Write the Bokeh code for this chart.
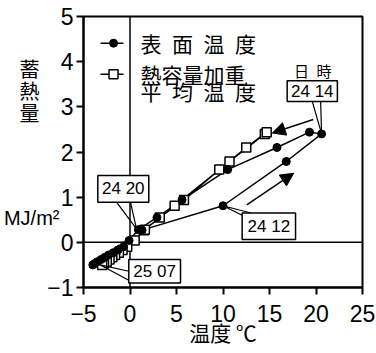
from bokeh.plotting import figure
from bokeh.models import Range1d, FixedTicker, Arrow, NormalHead, Span, LinearAxis
from bokeh.core.properties import value
from bokeh.embed import file_html
from bokeh.resources import INLINE

# ---- data ----
hours = ["24 11", "24 12", "24 13", "24 14", "24 15", "24 16", "24 17", "24 18",
         "24 19", "24 20", "24 21", "24 22", "24 23", "24 24", "25 01", "25 02",
         "25 03", "25 04", "25 05", "25 06"]
surface_temp = [1.3, 10.0, 16.8, 20.6, 19.3, 15.8, 10.5, 5.6, 2.9, 0.9,
                -0.1, -0.7, -1.3, -1.8, -2.3, -2.7, -3.1, -3.5, -3.8, -4.0]
weighted_temp = [1.5, 4.8, 10.7, 14.5, 14.7, 12.5, 9.6, 5.8, 3.2, 1.6,
                 0.5, -0.3, -0.8, -1.2, -1.6, -1.9, -2.2, -2.5, -2.8, -3.0]
heat_storage = [0.27, 0.81, 1.79, 2.40, 2.44, 2.10, 1.61, 0.94, 0.55, 0.28,
                0.04, -0.10, -0.17, -0.23, -0.28, -0.33, -0.38, -0.43, -0.47, -0.50]

x_ticks = [-5, 0, 5, 10, 15, 20, 25]
y_ticks = [-1, 0, 1, 2, 3, 4, 5]
tick_overrides = {-5: "\u22125", -1: "\u22121"}

series_names = ["表\u2002面\u2002温\u2002度", "熱容量加重", "平\u2002均\u2002温\u2002度"]
x_title = "温度 ℃"
# y title pieces, placed beside the axis at these heights
y_title_pos = [3.32, 0.54]
y_title_text = ["蓄\u3000\n熱\u3000\n量\u3000", "MJ/m²"]
time_head = "日\u2002時"

# callout boxes: text, box (x0, x1, y0, y1), leader wedge (xa, ya, xb, yb, xp, yp)
callout_text = ["24 20", "24 14", "24 12", "25 07"]
callout_box = [(-3.46, 2.02, 0.89, 1.48), (16.9, 22.3, 3.12, 3.58),
               (12.06, 17.8, 0.06, 0.65), (-0.13, 5.43, -0.90, -0.38)]
callout_leader = [(-1.45, 0.89, 0.05, 0.89, 0.7, 0.30),
                  (19.6, 3.12, 20.5, 3.12, 20.6, 2.40),
                  (12.06, 0.60, 13.0, 0.65, 10.0, 0.81),
                  (-0.13, -0.64, -0.13, -0.84, -3.2, -0.50)]

# arrows: (x_start, y_start, x_end, y_end)
arrows = [(19.7, 2.72, 15.3, 2.42), (12.55, 0.83, 17.6, 1.53)]

CJK = "Noto Sans CJK JP"
NUM = "Liberation Sans"
MIX = "Liberation Sans, Noto Sans CJK JP"

p = figure(width=376, height=353, x_range=Range1d(-5, 25), y_range=Range1d(-1, 5),
           output_backend="svg", toolbar_location=None,
           min_border_left=83, min_border_right=14, min_border_top=16, min_border_bottom=66)
p.grid.visible = False
p.outline_line_color = "black"
p.outline_line_width = 2
p.outline_line_alpha = 1.0

for ax, ticks in ((p.xaxis[0], x_ticks), (p.yaxis[0], y_ticks)):
    ax.ticker = FixedTicker(ticks=ticks)
    ax.major_label_overrides = tick_overrides
    ax.axis_line_width = 2
    ax.axis_line_color = "black"
    ax.major_tick_line_width = 2
    ax.major_tick_line_color = "black"
    ax.major_tick_out = 7
    ax.major_tick_in = 0
    ax.minor_tick_out = 0
    ax.minor_tick_in = 0
    ax.major_label_text_font = NUM
    ax.major_label_text_font_size = "23px"
    ax.major_label_text_color = "black"
p.xaxis[0].major_label_standoff = 10
p.yaxis[0].major_label_standoff = 3

xa = p.xaxis[0]
xa.axis_label = x_title
xa.axis_label_text_font = CJK
xa.axis_label_text_font_size = "21px"
xa.axis_label_text_font_style = "normal"
xa.axis_label_text_color = "black"
xa.axis_label_standoff = -8

# y title as a bare extra axis beside the value axis
ty = LinearAxis(ticker=FixedTicker(ticks=y_title_pos),
                major_label_overrides=dict(zip(y_title_pos, y_title_text)))
ty.axis_line_color = None
ty.major_tick_line_color = None
ty.minor_tick_line_color = None
ty.major_tick_out = 0
ty.major_tick_in = 0
ty.minor_tick_out = 0
ty.minor_tick_in = 0
ty.major_label_standoff = -15
ty.major_label_text_font = MIX
ty.major_label_text_font_size = "20px"
ty.major_label_text_color = "black"
ty.major_label_text_line_height = 1.0
p.add_layout(ty, "left")

# zero lines (below everything)
p.add_layout(Span(location=0, dimension="width", line_color="black", line_width=1.5, level="underlay"))
p.add_layout(Span(location=0, dimension="height", line_color="black", line_width=1.5, level="underlay"))

# series
p.line(surface_temp, heat_storage, line_color="black", line_width=1.5)
p.line(weighted_temp, heat_storage, line_color="black", line_width=1.5)
p.scatter(weighted_temp, heat_storage, marker="square", size=9, fill_color="white",
          line_color="black", line_width=1.5)
p.scatter(surface_temp, heat_storage, marker="circle", size=8, fill_color="black",
          line_color="black")

# legend (manual)
p.line([-3.17, -0.70], [4.41, 4.41], line_color="black", line_width=1.5)
p.scatter([-1.77], [4.41], marker="circle", size=8, fill_color="black", line_color="black")
p.line([-3.17, -0.70], [3.72, 3.72], line_color="black", line_width=1.5)
p.scatter([-1.77], [3.72], marker="square", size=9, fill_color="white", line_color="black", line_width=1.5)
p.text([1.13, 1.13, 1.13], [4.41, 3.72, 3.34], text=series_names, text_font=value(CJK),
       text_font_size="21px", text_align="left", text_baseline="middle", text_color="black")

# callout leaders
xs, ys = [], []
for (xa_, ya_, xb, yb, xp, yp) in callout_leader:
    xs.append([xa_, xp, xb])
    ys.append([ya_, yp, yb])
p.multi_line(xs, ys, line_color="black", line_width=1.2)

# arrows
for (xs0, ys0, xe, ye) in arrows:
    p.add_layout(Arrow(end=NormalHead(size=13, fill_color="black", line_color="black"),
                       x_start=xs0, y_start=ys0, x_end=xe, y_end=ye,
                       line_color="black", line_width=1.5))

# callout boxes
p.quad(left=[b[0] for b in callout_box], right=[b[1] for b in callout_box],
       bottom=[b[2] for b in callout_box], top=[b[3] for b in callout_box],
       fill_color="white", line_color="black", line_width=1.5)
p.text([(b[0] + b[1]) / 2 for b in callout_box], [(b[2] + b[3]) / 2 for b in callout_box],
       text=callout_text, text_font=value(NUM), text_font_size="17px",
       text_align="center", text_baseline="middle", text_color="black")
p.text([19.65], [3.80], text=[time_head], text_font=value(CJK), text_font_size="15px",
       text_align="center", text_baseline="middle", text_color="black")

open("out.html", "w").write(file_html(p, INLINE))
